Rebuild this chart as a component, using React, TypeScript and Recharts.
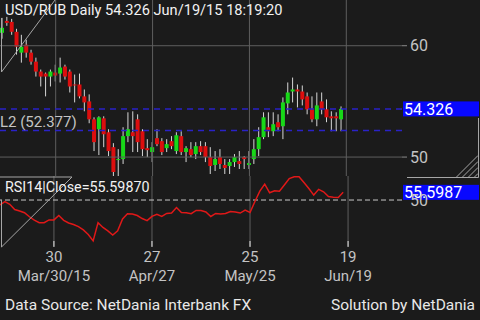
import React from "react";
import { ComposedChart, Bar, Line, XAxis, YAxis, ReferenceLine } from "recharts";

// daily USD/RUB candles, Mar 13 – Jun 19 2015
const open = [
  61.16, 62.23, 62.14, 61.25, 59.38, 60.09, 59.38, 58.57, 57.68, 57.5,
  57.23, 57.59, 57.5, 58.13, 57.68, 56.52, 56.52, 55.45, 55.0, 53.39,
  52.5, 53.48, 52.23, 50.89, 49.73, 49.82, 51.88, 52.23, 53.39, 52.32,
  50.8, 50.45, 51.7, 51.43, 50.8, 51.43, 50.54, 51.88, 50.45, 50.71,
  50.27, 50.98, 50.98, 50.0, 49.29, 50.0, 49.29, 49.2, 49.55, 49.64,
  50.0, 49.29, 49.82, 50.71, 51.79, 52.68, 52.32, 53.13, 52.77, 54.82,
  55.89, 56.07, 55.89, 55.45, 54.29, 53.39, 55.0, 54.29, 53.66, 53.66,
  53.39,
];
const high = [
  62.5, 62.59, 62.41, 61.52, 60.98, 60.54, 59.64, 58.93, 57.86, 57.59,
  57.86, 58.3, 58.93, 58.3, 57.86, 57.41, 57.5, 56.07, 55.63, 53.57,
  53.66, 53.66, 52.5, 51.25, 50.71, 52.68, 54.02, 54.11, 53.84, 52.5,
  51.61, 51.34, 52.5, 51.7, 51.61, 51.88, 52.23, 52.32, 50.98, 51.34,
  51.34, 51.43, 51.34, 50.89, 50.54, 50.71, 49.82, 49.82, 50.27, 50.54,
  50.09, 50.54, 51.61, 52.68, 54.02, 54.02, 54.02, 53.84, 55.36, 56.7,
  57.14, 56.52, 56.43, 55.8, 55.45, 55.8, 55.8, 55.18, 54.11, 54.02,
  54.55,
];
const low = [
  60.63, 61.79, 60.98, 59.2, 58.48, 58.93, 58.3, 57.23, 56.34, 55.45,
  56.34, 56.79, 56.7, 56.96, 55.8, 54.91, 55.27, 54.11, 53.04, 50.54,
  50.18, 50.89, 50.09, 48.3, 48.3, 49.38, 51.34, 50.45, 50.45, 50.09,
  50.0, 49.55, 50.98, 50.18, 50.45, 50.71, 50.27, 50.18, 49.55, 50.0,
  49.82, 50.18, 49.55, 48.48, 48.75, 48.93, 48.48, 48.48, 49.11, 48.93,
  48.93, 48.93, 49.38, 50.09, 51.61, 51.79, 51.88, 52.32, 51.61, 53.84,
  54.91, 54.46, 54.64, 53.84, 53.13, 52.77, 53.84, 53.13, 52.32, 52.32,
  52.32,
];
const close = [
  61.61, 62.05, 61.25, 59.91, 59.91, 59.38, 58.57, 57.68, 57.23, 57.23,
  57.68, 57.32, 58.04, 57.23, 56.34, 56.43, 55.45, 54.91, 53.39, 51.34,
  53.57, 52.05, 50.54, 48.66, 49.82, 51.88, 52.5, 51.88, 51.34, 50.71,
  50.62, 50.89, 51.16, 50.45, 51.16, 50.98, 51.96, 50.45, 50.8, 50.18,
  50.98, 50.45, 50.0, 49.2, 49.82, 49.38, 49.02, 49.55, 50.0, 49.38,
  49.82, 49.46, 50.71, 51.79, 53.57, 52.32, 52.95, 52.68, 54.91, 55.8,
  56.07, 55.89, 55.18, 54.29, 53.39, 54.64, 54.29, 53.57, 53.48, 53.48,
  54.326,
];
const rsi14 = [
  46.4, 48.9, 46.9, 43.1, 42.0, 40.7, 37.8, 35.3, 33.5, 33.5,
  35.5, 35.5, 38.7, 35.2, 33.3, 32.2, 30.6, 28.2, 24.9, 20.2,
  33.5, 30.0, 27.5, 24.5, 27.5, 36.2, 40.0, 39.8, 38.7, 36.5,
  35.0, 38.1, 39.6, 38.1, 40.2, 40.5, 44.5, 40.9, 40.8, 40.0,
  42.4, 42.4, 41.3, 38.0, 40.2, 39.8, 40.2, 41.6, 41.3, 40.5,
  42.6, 40.9, 48.9, 56.5, 61.6, 55.3, 56.8, 56.4, 60.9, 65.6,
  66.9, 66.9, 62.7, 58.4, 53.6, 57.8, 56.0, 52.5, 52.0, 51.8,
  55.5987,
];
const emptySlots = 12;

const xTicks = [
  { slot: 11, day: "30", label: "Mar/30/15" },
  { slot: 31, day: "27", label: "Apr/27" },
  { slot: 51, day: "25", label: "May/25" },
  { slot: 71, day: "19", label: "Jun/19" },
];
const priceTicks = [50, 60];
const lastPrice = 54.326;
const level2 = 52.377;
const lastRsi = 55.5987;

const rows: any[] = [];
for (let i = 0; i < open.length + emptySlots; i++) {
  rows.push(
    i < open.length
      ? { slot: i, o: open[i], h: high[i], l: low[i], c: close[i], rsi: rsi14[i] }
      : { slot: i }
  );
}

const FONT = "Roboto, sans-serif";
const BG = "#1b1b1b";
const GRID = "#5e5e5e";

function Candle(props: any) {
  const { x, y, width, height, payload } = props;
  if (!payload || payload.o == null) return null;
  const top = Math.min(y, y + height);
  const span = Math.abs(height);
  const k = span / (payload.h - payload.l);
  const cx = x + width / 2;
  const up = payload.c >= payload.o;
  const bodyTop = top + (payload.h - Math.max(payload.o, payload.c)) * k;
  const bodyH = Math.max(1, Math.abs(payload.c - payload.o) * k);
  return (
    <g>
      <line x1={cx} x2={cx} y1={top} y2={top + span} stroke="#d6d6d6" strokeWidth={1} />
      <rect x={x} y={bodyTop} width={width} height={bodyH} fill={up ? "#18d818" : "#dc0e0e"} />
    </g>
  );
}

function PriceTag(props: any) {
  const { viewBox, text } = props;
  if (!viewBox) return null;
  const x = viewBox.x + viewBox.width + 1;
  const y = viewBox.y;
  return (
    <g>
      <rect x={x} y={y - 7.5} width={76} height={15} fill="#0808ff" />
      <text x={x + 1} y={y + 6} fill="#ffffff" fontSize={16} fontFamily={FONT}>
        {text}
      </text>
    </g>
  );
}

function LevelLabel(props: any) {
  const { viewBox, text } = props;
  if (!viewBox) return null;
  return (
    <text x={viewBox.x} y={viewBox.y - 3.5} fill="#c4c4c4" fontSize={15} fontFamily={FONT}>
      {text}
    </text>
  );
}

function DateTick(props: any) {
  const { x, y, payload } = props;
  const t = xTicks.find((tk) => tk.slot === payload.value);
  if (!t) return null;
  return (
    <g>
      <line x1={x} x2={x} y1={y - 5} y2={y + 1} stroke="#e8e8e8" strokeWidth={1} />
      <text x={x} y={y + 16} textAnchor="middle" fill="#c4c4c4" fontSize={15} fontFamily={FONT}>
        {t.day}
      </text>
      <text x={x} y={y + 35} textAnchor="middle" fill="#c4c4c4" fontSize={15} fontFamily={FONT}>
        {t.label}
      </text>
    </g>
  );
}

export default function App() {
  const margin = { top: 0, right: 0, left: 0, bottom: 0 };
  return (
    <div
      style={{
        position: "absolute",
        left: 0,
        top: 0,
        width: 480,
        height: 320,
        background: BG,
        overflow: "hidden",
        fontFamily: FONT,
      }}
    >
      <div style={{ position: "absolute", left: 0, top: 0 }}>
        <ComposedChart width={480} height={176} data={rows} margin={margin}>
          <XAxis dataKey="slot" type="category" hide />
          <YAxis
            orientation="right"
            width={78}
            domain={[48.393, 64.107]}
            ticks={priceTicks}
            axisLine={false}
            tickSize={5}
            tickMargin={3}
            tickLine={{ stroke: "#8a8a8a" }}
            tick={{ fill: "#c4c4c4", fontSize: 16, fontFamily: FONT }}
          />
          {priceTicks.map((p) => (
            <ReferenceLine key={p} y={p} stroke={GRID} strokeWidth={1} />
          ))}
          {xTicks.map((t) => (
            <ReferenceLine key={t.slot} x={t.slot} stroke={GRID} strokeWidth={1} />
          ))}
          <ReferenceLine
            y={lastPrice}
            stroke="#2a22c8"
            strokeWidth={1.5}
            strokeDasharray="6 5"
            label={<PriceTag text={lastPrice.toFixed(3)} />}
          />
          <ReferenceLine
            y={level2}
            stroke="#2a22c8"
            strokeWidth={1.5}
            strokeDasharray="6 5"
            label={<LevelLabel text={`L2 (${level2})`} />}
          />
          <Bar
            dataKey={(d: any) => (d.o == null ? null : [d.l, d.h])}
            barSize={4}
            shape={<Candle />}
            isAnimationActive={false}
          />
        </ComposedChart>
      </div>

      <div style={{ position: "absolute", left: 0, top: 176 }}>
        <ComposedChart width={480} height={110} data={rows} margin={margin}>
          <XAxis
            dataKey="slot"
            type="category"
            height={40}
            ticks={xTicks.map((t) => t.slot)}
            interval={0}
            axisLine={false}
            tickLine={false}
            tickSize={0}
            tickMargin={0}
            tick={<DateTick />}
          />
          <YAxis
            orientation="right"
            width={78}
            domain={[16.5, 67.5]}
            ticks={[50]}
            axisLine={false}
            tickSize={5}
            tickMargin={3}
            tickLine={false}
            tick={{ fill: "#c4c4c4", fontSize: 16, fontFamily: FONT }}
          />
          {xTicks.map((t) => (
            <ReferenceLine key={t.slot} x={t.slot} stroke={GRID} strokeWidth={1} />
          ))}
          <ReferenceLine y={50} stroke="#c8c8c8" strokeWidth={1} strokeDasharray="5 3" />
          <Line
            dataKey="rsi"
            stroke="#e01818"
            strokeWidth={1.5}
            dot={false}
            isAnimationActive={false}
          />
          <ReferenceLine
            y={lastRsi}
            stroke="none"
            label={<PriceTag text={lastRsi.toFixed(4)} />}
          />
        </ComposedChart>
      </div>

      <svg
        width={480}
        height={320}
        style={{ position: "absolute", left: 0, top: 0, pointerEvents: "none" }}
      >
        <g stroke="#a6a6a6" strokeWidth={1} fill="none">
          <polyline points="1.5,18 1.5,72 55,0" />
          <polyline points="0,177 72,177 1.5,247" />
          <line x1={1.5} y1={200} x2={1.5} y2={247} />
          <polyline points="407,177.5 478.5,177.5 478.5,118" />
          <line x1={456} y1={177.5} x2={478} y2={155.5} />
          <line x1={462} y1={177.5} x2={478} y2={161.5} />
          <line x1={468} y1={177.5} x2={478} y2={167.5} />
          <line x1={474} y1={177.5} x2={478} y2={173.5} />
        </g>
        <text x={5} y={15} fill="#f2f2f2" fontSize={14.6} fontFamily={FONT}>
          USD/RUB Daily 54.326 Jun/19/15 18:19:20
        </text>
        <text x={5} y={191.5} fill="#f2f2f2" fontSize={14.3} fontFamily={FONT}>
          RSI14|Close=55.59870
        </text>
        <text x={5} y={309.5} fill="#e8e8e8" fontSize={15.5} fontFamily={FONT}>
          Data Source: NetDania Interbank FX
        </text>
        <text x={475} y={309.5} textAnchor="end" fill="#e8e8e8" fontSize={15.5} fontFamily={FONT}>
          Solution by NetDania
        </text>
      </svg>
    </div>
  );
}
